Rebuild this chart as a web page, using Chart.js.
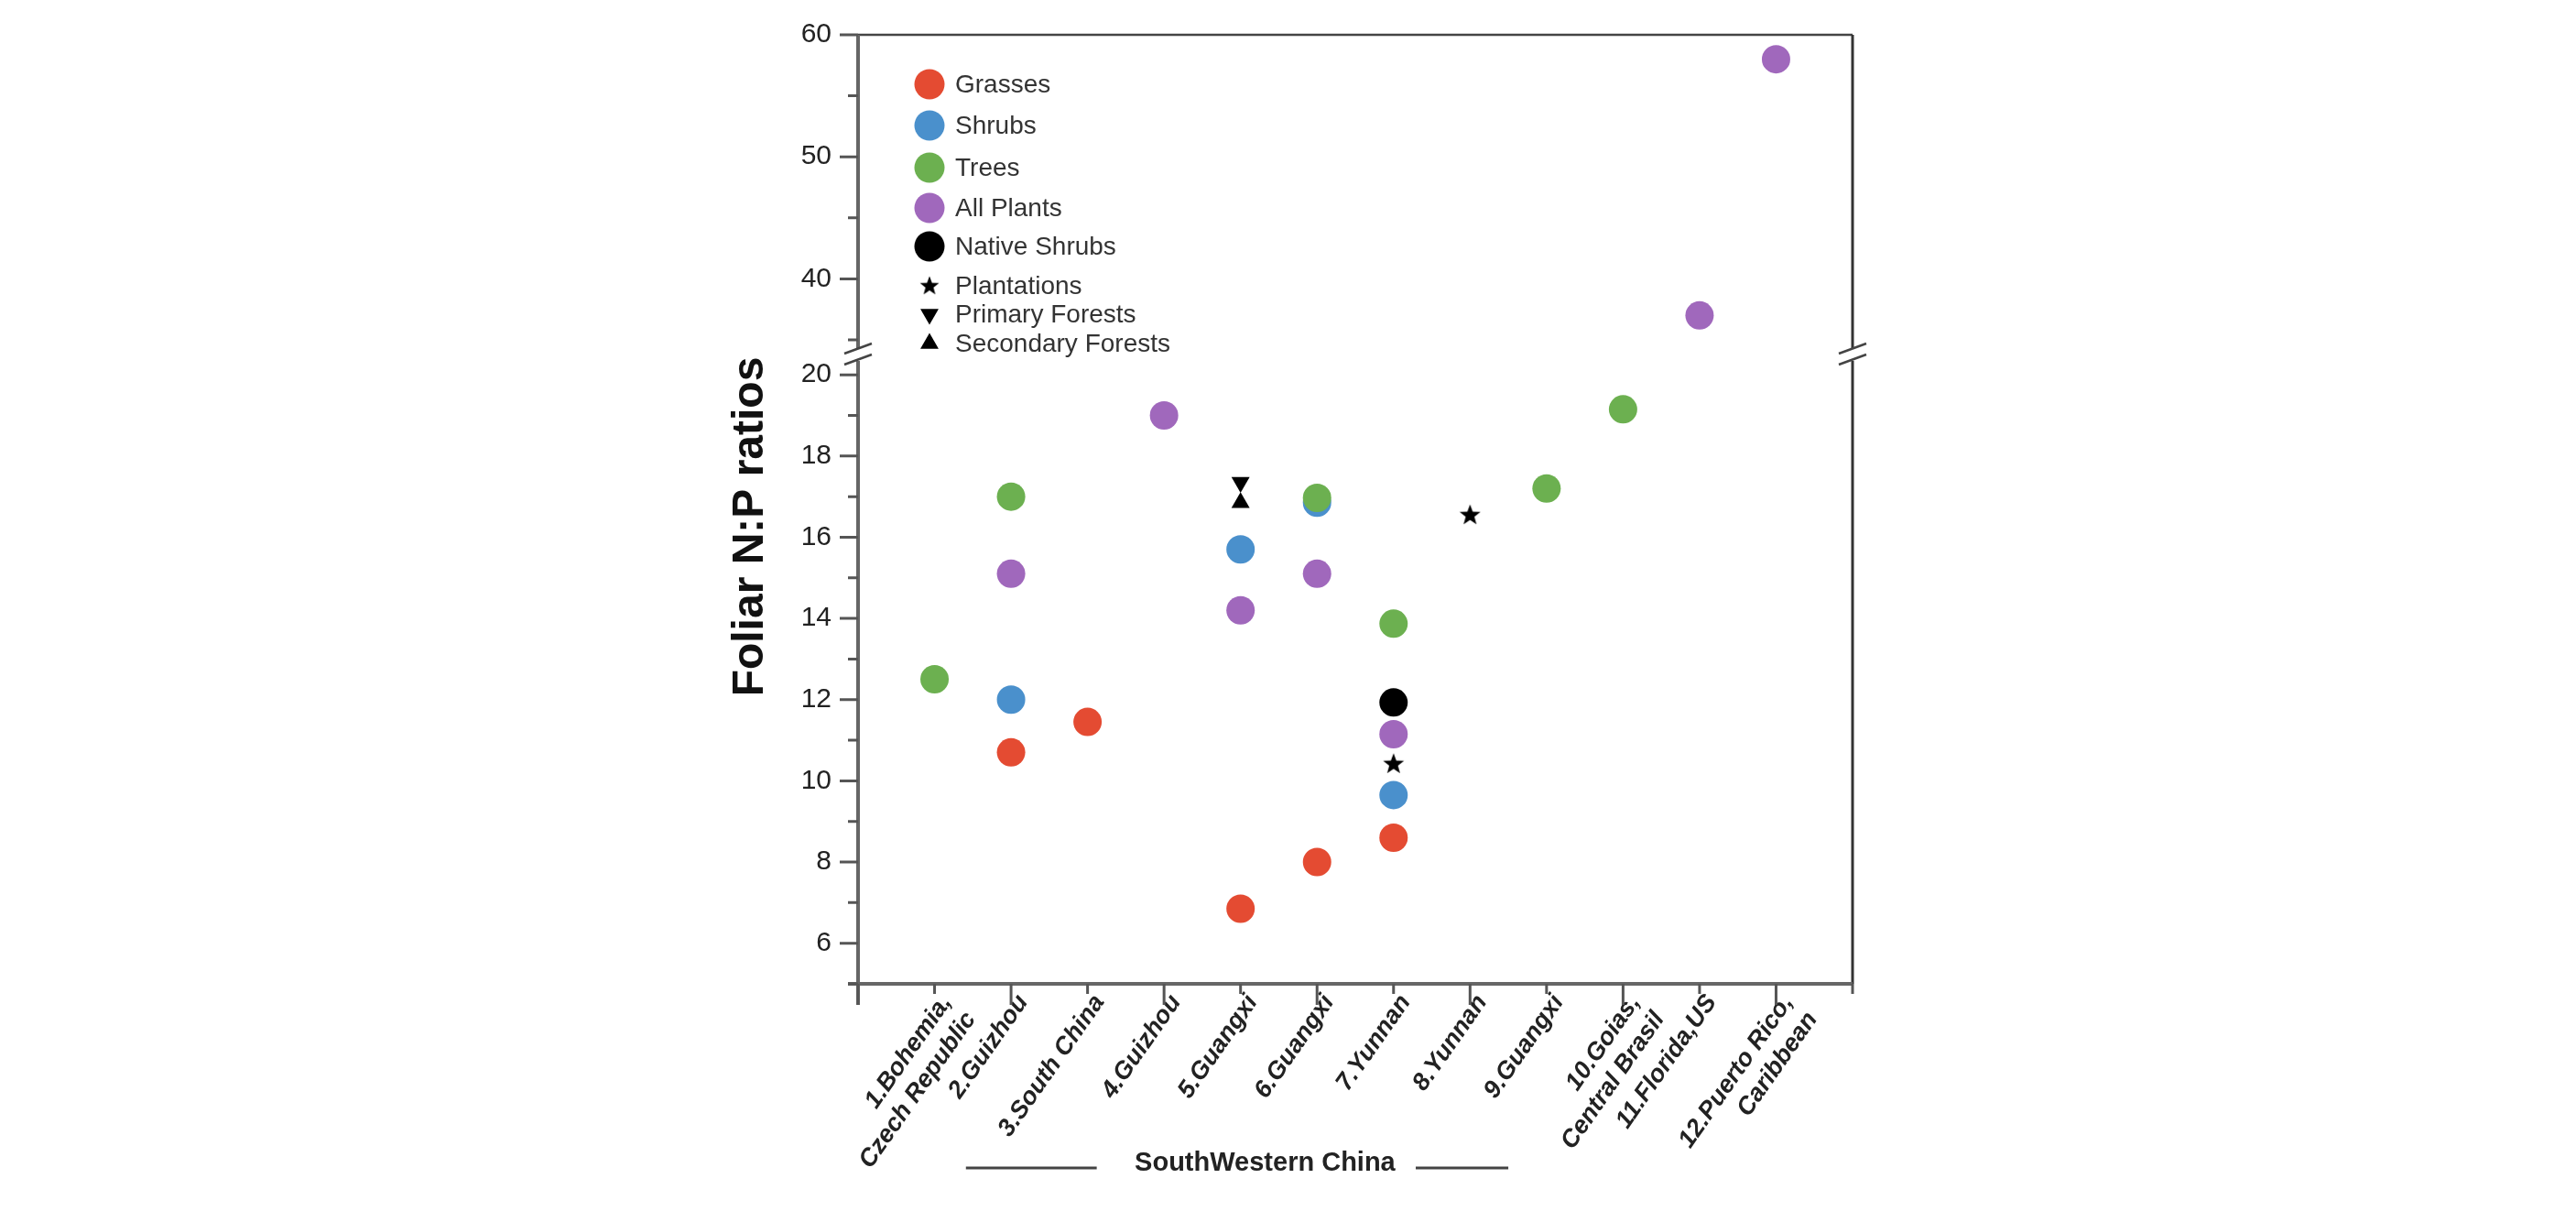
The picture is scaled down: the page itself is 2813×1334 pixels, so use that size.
<!DOCTYPE html>
<html>
<head>
<meta charset="utf-8">
<title>Foliar N:P ratios</title>
<script src="https://cdn.jsdelivr.net/npm/chart.js@4.4.1/dist/chart.umd.min.js"></script>
<style>
  html, body { margin: 0; padding: 0; background: #fff; }
  canvas { display: block; }
</style>
</head>
<body>
<canvas id="np-chart" width="2813" height="1334"></canvas>
<script>
// site names on the x axis (site n sits at x = n)
var siteLabels = [
    ["1.Bohemia,", "Czech Republic"], "2.Guizhou", "3.South China", "4.Guizhou",
    "5.Guangxi", "6.Guangxi", "7.Yunnan", "8.Yunnan", "9.Guangxi",
    ["10.Goias,", "Central Brasil"], "11.Florida,US", ["12.Puerto Rico,", "Caribbean"]
];

// values
var grassesSite = [2, 3, 5, 6, 7];
var grassesNP = [10.7, 11.45, 6.85, 8.0, 8.6];

var shrubsSite = [2, 5, 6, 7];
var shrubsNP = [12.0, 15.7, 16.85, 9.65];

var treesSite = [1, 2, 6, 7, 9, 10];
var treesNP = [12.5, 17.0, 16.97, 13.87, 17.2, 19.15];

var allSite = [2, 4, 5, 6, 7];
var allNP = [15.1, 19.0, 14.2, 15.1, 11.15];
var allHighSite = [11, 12];
var allHighNP = [37.0, 58.0];

var nativeSite = [7];
var nativeNP = [11.93];

var plantSite = [7, 8];
var plantNP = [10.42, 16.55];

var primarySite = [5];
var primaryNP = [17.35];

var secondarySite = [5];
var secondaryNP = [16.85];

var FONT = "'Liberation Sans', Arial, Helvetica, sans-serif";

function pts(xs, ys) {
    return xs.map(function (x, i) { return { x: x, y: ys[i] }; });
}

// filled five point star used for "Plantations"
var starImg = (function () {
    var c = document.createElement("canvas");
    c.width = 24; c.height = 24;
    var g = c.getContext("2d");
    g.beginPath();
    for (var i = 0; i < 10; i++) {
        var r = i % 2 === 0 ? 12 : 5;
        var a = -Math.PI / 2 + i * Math.PI / 5;
        g.lineTo(12 + r * Math.cos(a), 12.5 + r * Math.sin(a));
    }
    g.closePath();
    g.fillStyle = "#000";
    g.fill();
    return c;
})();

function dot(label, data, color, order, axis, inLegend) {
    return {
        label: label,
        data: data,
        yAxisID: axis || "y",
        backgroundColor: color,
        borderColor: color,
        pointRadius: 15.5,
        pointHoverRadius: 15.5,
        pointBorderWidth: 0,
        pointStyle: "circle",
        order: order,
        inLegend: inLegend !== false
    };
}

var datasets = [
    dot("Grasses", pts(grassesSite, grassesNP), "#E44B32", 5),
    dot("Shrubs", pts(shrubsSite, shrubsNP), "#4A90CC", 4),
    dot("Trees", pts(treesSite, treesNP), "#6CB050", 3),
    dot("All Plants", pts(allSite, allNP), "#A068BC", 2),
    dot("Native Shrubs", pts(nativeSite, nativeNP), "#000000", 1),
    {
        label: "Plantations", data: pts(plantSite, plantNP), yAxisID: "y",
        pointStyle: starImg, pointRadius: 12, backgroundColor: "#000", borderColor: "#000",
        order: 0, inLegend: true
    },
    {
        label: "Primary Forests", data: pts(primarySite, primaryNP), yAxisID: "y",
        pointStyle: "triangle", rotation: 180, pointRadius: 11.5, pointBorderWidth: 0,
        backgroundColor: "#000", borderColor: "#000", order: 0, inLegend: true
    },
    {
        label: "Secondary Forests", data: pts(secondarySite, secondaryNP), yAxisID: "y",
        pointStyle: "triangle", rotation: 0, pointRadius: 11.5, pointBorderWidth: 0,
        backgroundColor: "#000", borderColor: "#000", order: 0, inLegend: true
    },
    dot("All Plants", pts(allHighSite, allHighNP), "#A068BC", 2, "y2", false)
];

// legend drawn inside the plot, top left
var legendInside = {
    id: "legendInside",
    afterDatasetsDraw: function (chart) {
        var ctx = chart.ctx, a = chart.chartArea;
        var rows = [54, 99, 145, 189, 231, 274, 305, 337];
        var items = chart.data.datasets.filter(function (d) { return d.inLegend; });
        ctx.save();
        ctx.font = "28px " + FONT;
        ctx.textBaseline = "middle";
        items.forEach(function (d, i) {
            var x = a.left + 78, y = a.top + rows[i];
            ctx.fillStyle = d.backgroundColor;
            if (d.pointStyle === "circle") {
                ctx.beginPath();
                ctx.arc(x, y, 16.5, 0, Math.PI * 2);
                ctx.fill();
            } else if (d.pointStyle === "triangle") {
                var r = 11.5, s = d.rotation ? -1 : 1;
                ctx.beginPath();
                ctx.moveTo(x, y - s * r);
                ctx.lineTo(x + r * 0.866, y + s * r / 2);
                ctx.lineTo(x - r * 0.866, y + s * r / 2);
                ctx.closePath();
                ctx.fill();
            } else {
                ctx.drawImage(starImg, x - 11, y - 11, 22, 22);
            }
            ctx.fillStyle = "#333";
            ctx.fillText(d.label, a.left + 106, y + 1);
        });
        ctx.restore();
    }
};

// axis lines, tick marks, axis break, titles
var frame = {
    id: "frame",
    afterDraw: function (chart) {
        var ctx = chart.ctx, a = chart.chartArea;
        var xs = chart.scales.x, lo = chart.scales.y, hi = chart.scales.y2;
        var brk = lo.top;
        ctx.save();
        ctx.lineCap = "butt";

        // top and right border
        ctx.strokeStyle = "#444";
        ctx.lineWidth = 2.5;
        ctx.beginPath();
        ctx.moveTo(a.left, a.top); ctx.lineTo(a.right, a.top);
        ctx.stroke();
        ctx.lineWidth = 3;
        ctx.strokeStyle = "#333";
        ctx.beginPath();
        ctx.moveTo(a.right, a.top); ctx.lineTo(a.right, brk - 7);
        ctx.moveTo(a.right, brk + 7); ctx.lineTo(a.right, a.bottom);
        ctx.stroke();

        // left axis
        ctx.strokeStyle = "#666";
        ctx.lineWidth = 4;
        ctx.beginPath();
        ctx.moveTo(a.left, a.top); ctx.lineTo(a.left, brk - 7);
        ctx.moveTo(a.left, brk + 7); ctx.lineTo(a.left, a.bottom + 23);
        ctx.stroke();

        // bottom axis
        ctx.beginPath();
        ctx.moveTo(a.left - 11, a.bottom); ctx.lineTo(a.right, a.bottom);
        ctx.stroke();

        // y ticks
        ctx.lineWidth = 3;
        ctx.strokeStyle = "#555";
        ctx.beginPath();
        for (var v = 5; v <= 20; v++) {
            var len = v % 2 === 0 ? 20 : 11, py = lo.getPixelForValue(v);
            ctx.moveTo(a.left - len, py); ctx.lineTo(a.left, py);
        }
        for (var w = 35; w <= 60; w += 5) {
            var len2 = w % 10 === 0 ? 20 : 11, py2 = hi.getPixelForValue(w);
            ctx.moveTo(a.left - len2, py2); ctx.lineTo(a.left, py2);
        }
        // x ticks
        for (var k = 0; k <= 13; k++) {
            var len3 = k % 2 === 0 ? 23 : 11, px = xs.getPixelForValue(k);
            ctx.moveTo(px, a.bottom); ctx.lineTo(px, a.bottom + len3);
        }
        ctx.stroke();

        // break marks
        ctx.strokeStyle = "#444";
        ctx.lineWidth = 2.5;
        [a.left, a.right].forEach(function (bx) {
            ctx.beginPath();
            ctx.moveTo(bx - 15, brk - 1); ctx.lineTo(bx + 15, brk - 12);
            ctx.moveTo(bx - 15, brk + 11); ctx.lineTo(bx + 15, brk);
            ctx.stroke();
        });

        // y title
        ctx.fillStyle = "#111";
        ctx.font = "bold 48px " + FONT;
        ctx.textAlign = "center";
        ctx.textBaseline = "middle";
        ctx.translate(a.left - 117, (a.top + a.bottom) / 2 + 19);
        ctx.rotate(-Math.PI / 2);
        ctx.fillText("Foliar N:P ratios", 0, 0);
        ctx.setTransform(1, 0, 0, 1, 0, 0);

        // group caption under sites 2-8
        var gy = a.bottom + 196;
        ctx.font = "bold 29px " + FONT;
        ctx.fillStyle = "#222";
        ctx.fillText("SouthWestern China", xs.getPixelForValue(5.32), gy);
        ctx.strokeStyle = "#444";
        ctx.lineWidth = 3;
        ctx.beginPath();
        ctx.moveTo(xs.getPixelForValue(1.41), gy + 5); ctx.lineTo(xs.getPixelForValue(3.12), gy + 5);
        ctx.moveTo(xs.getPixelForValue(7.29), gy + 5); ctx.lineTo(xs.getPixelForValue(8.5), gy + 5);
        ctx.stroke();
        ctx.restore();
    }
};

// fixed axis sizes so the plot lands where the figure has it
function fixY(s) {
    s.width = 937;
    s.paddingTop = 0;
    s.paddingBottom = 0;
}

var ctx = document.getElementById("np-chart");

var chart = new Chart(ctx, {
    type: "scatter",
    data: { datasets: datasets },
    options: {
        responsive: false,
        animation: false,
        events: [],
        layout: { padding: { top: 38, right: 790, bottom: 0, left: 0 } },
        plugins: {
            legend: { display: false },
            tooltip: { enabled: false }
        },
        scales: {
            x: {
                type: "linear",
                min: 0,
                max: 13,
                afterFit: function (s) { s.height = 260; s.paddingLeft = 0; s.paddingRight = 0; },
                grid: { display: false, drawTicks: false },
                border: { display: false },
                ticks: {
                    stepSize: 1,
                    autoSkip: false,
                    includeBounds: false,
                    minRotation: 55,
                    maxRotation: 55,
                    padding: 6,
                    labelOffset: 13,
                    color: "#222",
                    font: { family: FONT, size: 27, weight: "bold", style: "italic" },
                    callback: function (v) { return siteLabels[v - 1] || ""; }
                }
            },
            y: {
                type: "linear",
                position: "left",
                stack: "np",
                stackWeight: 687,
                min: 5,
                max: 20.5,
                afterFit: fixY,
                grid: { display: false, drawTicks: false },
                border: { display: false },
                ticks: {
                    stepSize: 1,
                    autoSkip: false,
                    includeBounds: false,
                    padding: 29,
                    color: "#222",
                    font: { family: FONT, size: 30 },
                    callback: function (v) { return (v % 2 === 0 && v >= 6) ? v : ""; }
                }
            },
            y2: {
                type: "linear",
                position: "left",
                stack: "np",
                stackWeight: 349,
                min: 33.8,
                max: 60,
                afterFit: fixY,
                grid: { display: false, drawTicks: false },
                border: { display: false },
                ticks: {
                    stepSize: 5,
                    autoSkip: false,
                    includeBounds: false,
                    padding: 29,
                    color: "#222",
                    font: { family: FONT, size: 30 },
                    callback: function (v) { return v % 10 === 0 ? v : ""; }
                }
            }
        }
    },
    plugins: [legendInside, frame]
});
</script>
</body>
</html>
